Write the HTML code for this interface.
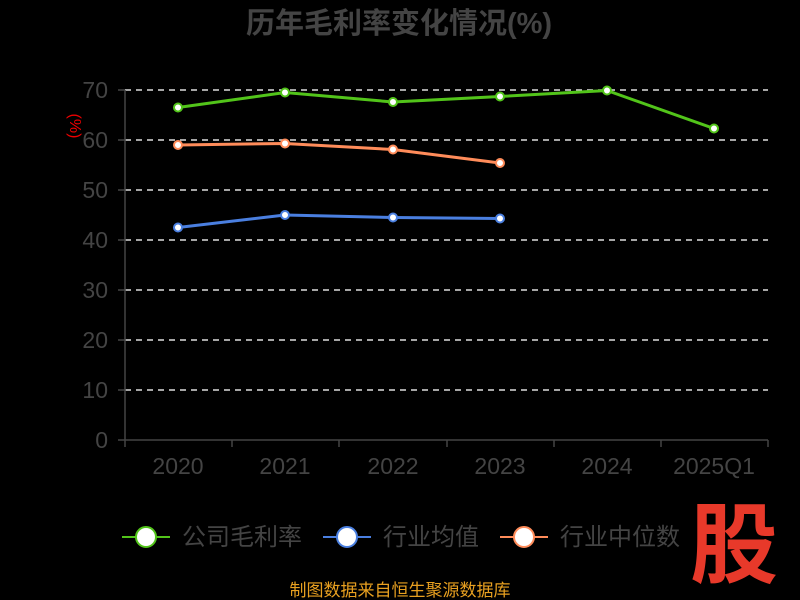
<!DOCTYPE html><html><head><style>body{margin:0;background:#000;}svg{display:block}</style></head><body>
<svg width="800" height="600" xmlns="http://www.w3.org/2000/svg" font-family="Liberation Sans, Noto Sans CJK SC, sans-serif">
<rect width="800" height="600" fill="#000"/>
<text x="399" y="33" text-anchor="middle" font-size="29" font-weight="bold" fill="#444">历年毛利率变化情况(%)</text>
<text x="70" y="126" fill="#e00" font-size="16" transform="rotate(90 70 126)" text-anchor="middle">(%)</text>
<g stroke="#ddd" stroke-dasharray="6,5" stroke-width="1.5">
<line x1="125" x2="768" y1="90" y2="90"/><line x1="125" x2="768" y1="140" y2="140"/><line x1="125" x2="768" y1="190" y2="190"/><line x1="125" x2="768" y1="240" y2="240"/><line x1="125" x2="768" y1="290" y2="290"/><line x1="125" x2="768" y1="340" y2="340"/><line x1="125" x2="768" y1="390" y2="390"/></g>
<g stroke="#444" stroke-width="1.5"><line x1="125" y1="90" x2="125" y2="440"/><line x1="125" y1="440" x2="768" y2="440"/>
<line x1="118" x2="125" y1="90" y2="90"/><line x1="118" x2="125" y1="140" y2="140"/><line x1="118" x2="125" y1="190" y2="190"/><line x1="118" x2="125" y1="240" y2="240"/><line x1="118" x2="125" y1="290" y2="290"/><line x1="118" x2="125" y1="340" y2="340"/><line x1="118" x2="125" y1="390" y2="390"/><line x1="118" x2="125" y1="440" y2="440"/>
<line x1="125" x2="125" y1="440" y2="447"/><line x1="232" x2="232" y1="440" y2="447"/><line x1="339" x2="339" y1="440" y2="447"/><line x1="447" x2="447" y1="440" y2="447"/><line x1="554" x2="554" y1="440" y2="447"/><line x1="661" x2="661" y1="440" y2="447"/><line x1="768" x2="768" y1="440" y2="447"/></g>
<g fill="#444" font-size="23" text-anchor="end"><text x="108" y="98">70</text><text x="108" y="148">60</text><text x="108" y="198">50</text><text x="108" y="248">40</text><text x="108" y="298">30</text><text x="108" y="348">20</text><text x="108" y="398">10</text><text x="108" y="448">0</text></g>
<g fill="#444" font-size="23" text-anchor="middle"><text x="178" y="474">2020</text><text x="285" y="474">2021</text><text x="393" y="474">2022</text><text x="500" y="474">2023</text><text x="607" y="474">2024</text><text x="714" y="474">2025Q1</text></g>
<polyline fill="none" stroke="#52c41a" stroke-width="3" points="178,107.5 285,92.5 393,102 500,96.5 607,90.5 714,128.5"/>
<polyline fill="none" stroke="#ff8c5a" stroke-width="3" points="178,145 285,143.5 393,149.5 500,163"/>
<polyline fill="none" stroke="#4a7fe0" stroke-width="3" points="178,227.5 285,215 393,217.5 500,218.5"/>
<g fill="#fff" stroke-width="2">
<g stroke="#52c41a"><circle cx="178" cy="107.5" r="4"/><circle cx="285" cy="92.5" r="4"/><circle cx="393" cy="102" r="4"/><circle cx="500" cy="96.5" r="4"/><circle cx="607" cy="90.5" r="4"/><circle cx="714" cy="128.5" r="4"/></g>
<g stroke="#ff8c5a"><circle cx="178" cy="145" r="4"/><circle cx="285" cy="143.5" r="4"/><circle cx="393" cy="149.5" r="4"/><circle cx="500" cy="163" r="4"/></g>
<g stroke="#4a7fe0"><circle cx="178" cy="227.5" r="4"/><circle cx="285" cy="215" r="4"/><circle cx="393" cy="217.5" r="4"/><circle cx="500" cy="218.5" r="4"/></g>
</g>
<g font-size="24" fill="#444">
<line x1="122" x2="170" y1="537" y2="537" stroke="#52c41a" stroke-width="2"/><circle cx="146" cy="537" r="10" fill="#fff" stroke="#52c41a" stroke-width="2"/><text x="182" y="545">公司毛利率</text>
<line x1="323" x2="371" y1="537" y2="537" stroke="#4a7fe0" stroke-width="2"/><circle cx="347" cy="537" r="10" fill="#fff" stroke="#4a7fe0" stroke-width="2"/><text x="383" y="545">行业均值</text>
<line x1="500" x2="548" y1="537" y2="537" stroke="#ff8c5a" stroke-width="2"/><circle cx="524" cy="537" r="10" fill="#fff" stroke="#ff8c5a" stroke-width="2"/><text x="560" y="545">行业中位数</text>
</g>
<text x="734" y="576" text-anchor="middle" font-size="88" font-weight="bold" fill="#e8392a">股</text>
<text x="400" y="596" text-anchor="middle" font-size="17" fill="#e8a020">制图数据来自恒生聚源数据库</text>
</svg></body></html>
